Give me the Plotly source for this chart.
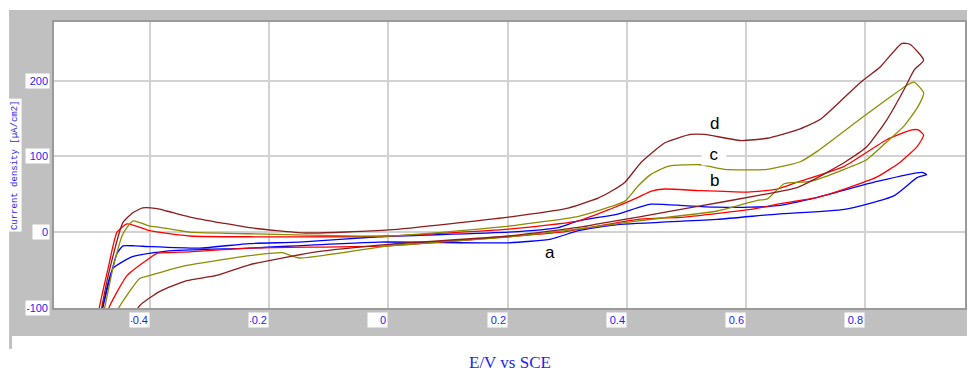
import plotly.graph_objects as go

# ---------------- data (E in V vs SCE, current density in µA/cm²) ----------------
# curve a (blue)
E_a_fwd = [-0.500, -0.478, -0.467, -0.455, -0.445, -0.425, -0.400, -0.317, -0.233, -0.149, -0.016, 0.202,
           0.285, 0.319, 0.385, 0.440, 0.497, 0.552, 0.608, 0.653, 0.720, 0.820, 0.895, 0.903]
I_a_fwd = [-170, -97, -61, -28, -18, -18, -19, -21, -15, -13, -6, 0,
           6, 15, 24, 37, 35, 33, 33, 35, 46, 67, 79, 76]
E_a_rev = [0.887, 0.848, 0.765, 0.653, 0.552, 0.385, 0.319, 0.273, 0.202, -0.016, -0.233, -0.372,
           -0.428, -0.462, -0.479, -0.500]
I_a_rev = [72, 48, 30, 24, 17, 10, 2, -9, -14, -13, -21, -25, -32, -48, -97, -170]

# curve b (red)
E_b_fwd = [-0.500, -0.484, -0.470, -0.455, -0.438, -0.400, -0.333, -0.233, 0.001, 0.202, 0.319, 0.374,
           0.419, 0.440, 0.464, 0.519, 0.603, 0.653, 0.686, 0.765, 0.836, 0.878, 0.889]
I_b_fwd = [-170, -97, -48, 0, 11, 2, -5, -6, -5, 4, 15, 31,
           46, 54, 57, 55, 53, 57, 66, 87, 122, 135, 135]
E_b_rev = [0.898, 0.887, 0.858, 0.820, 0.765, 0.720, 0.653, 0.608, 0.497, 0.419, 0.290, 0.202,
           0.001, -0.233, -0.333, -0.388, -0.400, -0.438, -0.467, -0.500]
I_b_rev = [128, 113, 92, 73, 57, 46, 37, 30, 20, 17, 0, -6,
           -18, -21, -26, -28, -34, -57, -97, -170]

# curve c (olive)
E_c_fwd = [-0.500, -0.475, -0.462, -0.445, -0.428, -0.400, -0.388, -0.333, -0.233, 0.001, 0.202, 0.319,
           0.374, 0.397, 0.419, 0.440, 0.469, 0.524, 0.564, 0.636, 0.691, 0.720, 0.791, 0.836, 0.870,
           0.882, 0.898]
I_c_fwd = [-170, -97, -48, -2, 15, 8, 7, 0, -2, -5, 8, 21,
           34, 41, 61, 76, 87, 89, 83, 83, 93, 107, 149, 175, 194,
           198, 184]
E_c_rev = [0.888, 0.865, 0.836, 0.803, 0.765, 0.708, 0.691, 0.664, 0.636, 0.619, 0.552, 0.419,
           0.297, 0.202, 0.001, -0.149, -0.178, -0.200, -0.233, -0.345, -0.400, -0.417, -0.450, -0.500]
I_c_rev = [165, 140, 119, 96, 83, 67, 66, 64, 44, 42, 28, 15,
           2, -6, -18, -34, -27, -28, -31, -45, -57, -61, -97, -170]

# curve d (maroon)
E_d_fwd = [-0.500, -0.480, -0.467, -0.445, -0.428, -0.412, -0.388, -0.372, -0.333, -0.278, -0.233, -0.138,
           0.001, 0.202, 0.297, 0.352, 0.374, 0.397, 0.424, 0.464, 0.507, 0.531, 0.591, 0.636, 0.686,
           0.725, 0.791, 0.825, 0.861, 0.875, 0.898]
I_d_fwd = [-200, -97, -48, 13, 26, 32, 31, 28, 20, 12, 6, -1,
           3, 20, 31, 45, 54, 66, 92, 118, 129, 129, 121, 124, 135,
           149, 197, 218, 249, 248, 227]
E_d_rev = [0.882, 0.865, 0.836, 0.803, 0.765, 0.708, 0.686, 0.631, 0.519, 0.419, 0.352, 0.324,
           0.202, 0.001, -0.121, -0.233, -0.288, -0.338, -0.383, -0.417, -0.500]
I_d_rev = [214, 188, 148, 113, 92, 67, 59, 50, 34, 20, 11, 7,
           -5, -16, -26, -43, -57, -64, -78, -97, -200]

curve_names = ["a", "b", "c", "d"]
curve_colors = ["#0000FF", "#FF0000", "#8C8C00", "#8E1C1C"]

label_x = [0.272, 0.547, 0.547, 0.547]
label_y = [-27, 68, 103, 143]

xtick_vals = [-0.4, -0.2, 0, 0.2, 0.4, 0.6, 0.8]
xtick_text = ["-0.4", "-0.2", "0", "0.2", "0.4", "0.6", "0.8"]
ytick_vals = [-100, 0, 100, 200]
ytick_text = ["-100", "0", "100", "200"]

x_title = "E/V vs SCE"
y_title = "Current density [µA/cm2]"

# ---------------- figure ----------------
series = [
    (E_a_fwd + E_a_rev, I_a_fwd + I_a_rev),
    (E_b_fwd + E_b_rev, I_b_fwd + I_b_rev),
    (E_c_fwd + E_c_rev, I_c_fwd + I_c_rev),
    (E_d_fwd + E_d_rev, I_d_fwd + I_d_rev),
]

fig = go.Figure()
for (xs, ys), name, col in zip(series, curve_names, curve_colors):
    fig.add_trace(go.Scatter(x=xs, y=ys, mode="lines", name=name,
                             line=dict(color=col, width=1.3, shape="spline", smoothing=0.5),
                             showlegend=False, hoverinfo="skip"))

ann = []
blue = "#1E1EF0"
for v, t in zip(xtick_vals, xtick_text):
    ann.append(dict(x=v, xref="x", y=-0.042, yref="paper", text=t, showarrow=False,
                    xanchor="right", yanchor="middle", bgcolor="white", width=17, align="right",
                    borderpad=1, font=dict(family="Arial", size=11, color=blue)))
for v, t in zip(ytick_vals, ytick_text):
    ann.append(dict(x=0, xref="paper", xshift=-4, y=v, yref="y", text=t, showarrow=False,
                    xanchor="right", yanchor="middle", bgcolor="white",
                    width=21 if len(t) > 1 else 14, align="right",
                    borderpad=1, font=dict(family="Arial", size=11, color=blue)))
for name, lx, ly in zip(curve_names, label_x, label_y):
    ann.append(dict(x=lx, y=ly, xref="x", yref="y", text=name, showarrow=False,
                    xanchor="center", yanchor="middle",
                    bgcolor="white" if name == "c" else "rgba(0,0,0,0)",
                    width=22 if name == "c" else None,
                    font=dict(family="Arial", size=17, color="black")))
ann.append(dict(x=0.5, y=-0.19, xref="paper", yref="paper", text=x_title, showarrow=False,
                xanchor="center", yanchor="middle",
                font=dict(family="Liberation Serif", size=17, color=blue)))
ann.append(dict(x=-0.0427, y=0.5, xref="paper", yref="paper", text=y_title, showarrow=False,
                textangle=-90, xanchor="center", yanchor="middle", bgcolor="white", borderpad=1,
                font=dict(family="Liberation Mono", size=9, color=blue)))

shapes = [
    dict(type="rect", xref="paper", yref="paper", x0=-0.0493, x1=1.01, y0=-0.0979, y1=1.042,
         fillcolor="#C0C0C0", line=dict(width=0), layer="below"),
    dict(type="rect", xref="paper", yref="paper", x0=-0.0493, x1=-0.0460, y0=-0.143, y1=-0.0979,
         fillcolor="#C0C0C0", line=dict(width=0), layer="below"),
    dict(type="rect", xref="paper", yref="paper", x0=0, x1=1, y0=0, y1=1,
         fillcolor="white", line=dict(width=0), layer="below"),
]

# the page body adds an 8 px margin, so the figure is 8 px smaller and sits at (8, 8)
fig.update_layout(
    width=967, height=363,
    margin=dict(l=46, r=8, t=14, b=63),
    paper_bgcolor="white", plot_bgcolor="white",
    annotations=ann, shapes=shapes,
    showlegend=False,
)
fig.update_xaxes(range=[-0.5607, 0.9674], tickvals=xtick_vals, showticklabels=False,
                 showgrid=True, gridcolor="#D2D2D2", gridwidth=1.5, zeroline=False,
                 showline=True, mirror=True, linecolor="#9A9A9A", linewidth=1.5, ticks="")
fig.update_yaxes(range=[-100, 277.4], tickvals=ytick_vals, showticklabels=False,
                 showgrid=True, gridcolor="#D2D2D2", gridwidth=1.5, zeroline=False,
                 showline=True, mirror=True, linecolor="#9A9A9A", linewidth=1.5, ticks="")

fig.write_html("out.html")
